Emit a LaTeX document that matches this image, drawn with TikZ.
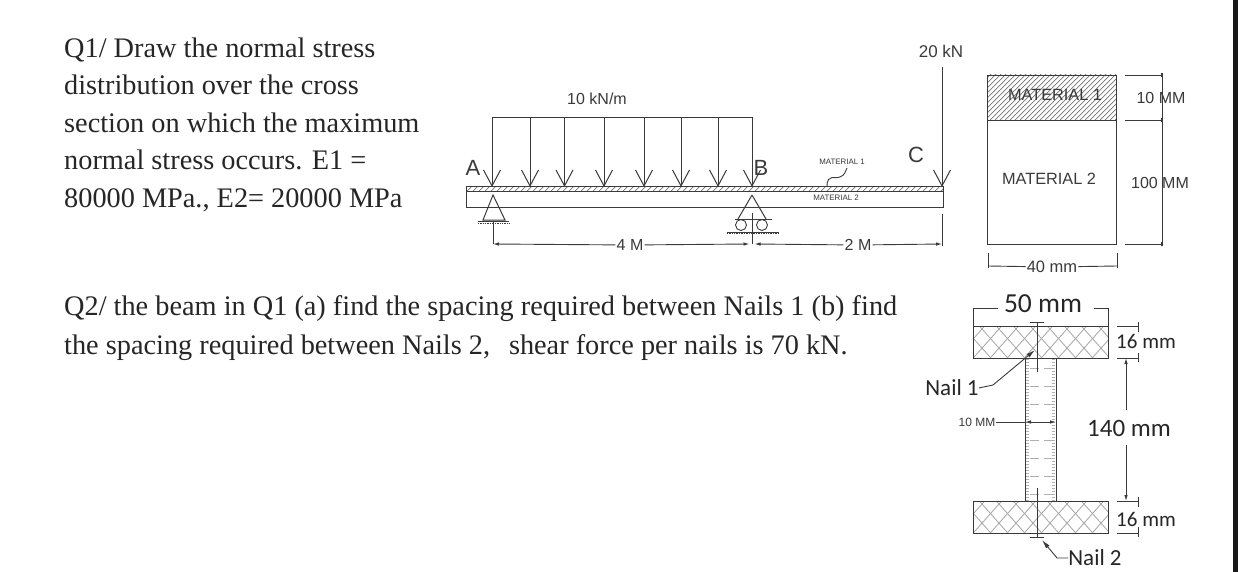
\documentclass[tikz,border=0pt]{standalone}
\usepackage{fontspec}
\setmainfont{Liberation Serif}
\newfontfamily\labelfont{Liberation Sans}
\newfontfamily\calfont{Carlito}
\usetikzlibrary{arrows.meta}
\definecolor{ink}{HTML}{3A3A3A}
\definecolor{txt}{HTML}{262626}
\tikzset{
  x=1pt,y=-1pt,
  para/.style={anchor=base west,inner sep=0pt,text=txt,font=\fontsize{28.3}{30}\selectfont},
  lab/.style={inner sep=0pt,text=ink,font=\labelfont\fontsize{16}{18}\selectfont},
  point/.style={inner sep=0pt,text=ink,font=\labelfont\fontsize{22}{24}\selectfont},
  tiny/.style={inner sep=0pt,text=ink,font=\labelfont\fontsize{7.9}{9}\selectfont},
  cal/.style={inner sep=0pt,text=txt,font=\calfont\fontsize{27.5}{30}\selectfont},
  calmid/.style={inner sep=0pt,text=txt,font=\calfont\fontsize{25}{28}\selectfont},
  calnail/.style={inner sep=0pt,text=txt,font=\calfont\fontsize{23}{26}\selectfont},
  calsm/.style={inner sep=0pt,text=txt,font=\calfont\fontsize{21}{24}\selectfont},
  ln/.style={draw=ink,line width=1pt},
  thinln/.style={draw=ink,line width=.9pt},
  vhead/.style={ln,-{Straight Barb[length=16pt,width=17pt,line width=1pt]}},
  dimtip/.style={thinln,{Latex[length=6pt,width=3.5pt]}-{Latex[length=6pt,width=3.5pt]}},
  endtip/.style={thinln,-{Latex[length=6pt,width=3.5pt]}},
  hatchln/.style={draw=ink!70,line width=.7pt},
  crossln/.style={draw=ink!45,line width=.8pt},
  webln/.style={draw=ink!40,line width=.7pt},
}
\begin{document}
\begin{tikzpicture}
\useasboundingbox (0,0) rectangle (1238,572);
\fill[white] (0,0) rectangle (1238,572);
\fill[black!90] (1232.5,0) rectangle (1238,572);

% Question text
\node[para] (q1a) at (64,57.5) {Q1/ Draw the normal stress};
\node[para] (q1b) at (64,94.5) {distribution over the cross};
\node[para] (q1c) at (64,132.5) {section on which the maximum};
\node[para] (q1d) at (64,170) {normal stress occurs. E1 =};
\node[para] (q1e) at (64,207) {80000 MPa., E2= 20000 MPa};
\node[para] (q2a) at (64,315) {Q2/ the beam in Q1 (a) find the spacing required between Nails 1 (b) find};
\node[para] (q2b) at (64,354) {the spacing required between Nails 2,\ \ \,shear force per nails is 70 kN.};

% Beam
\begin{scope}
\clip (466,186) rectangle (943,191.5);
\foreach \i in {0,6,...,490} \draw[hatchln] (460+\i,192)--(466+\i,186);
\end{scope}
\node[draw=ink,line width=1pt,minimum width=477pt,minimum height=21pt,inner sep=0pt,anchor=north west] (beam) at (466,186) {};
\draw[ln] (466,191.5) -- (943,191.5);

% Distributed load
\coordinate (lt1) at (492,117.5);
\coordinate (lt8) at (752,117.5);
\draw[ln] (lt1) -- (lt8);
\foreach \x in {492,530,564.5,604,644,681,718,752}
  \draw[vhead] (\x,117.5) -- (\x,187);
\node[lab] (load) at (597,99) {10 kN/m};
\node[point] (A) at (473,168) {A};
\node[point] (B) at (761,168) {B};
\node[point] (C) at (916,155) {C};

% Point load
\node[lab,font=\labelfont\fontsize{17}{19}\selectfont] (P) at (941,51) {20 kN};
\coordinate (ptip) at (942,187);
\draw[vhead] (942,67) -- (ptip);

% Support A
\draw[ln] (493,195) -- (483,220) -- (505,220) -- cycle;
\draw[ln] (478,221.5) -- (509,221.5);
\draw[ink,line width=.7pt,densely dotted] (478,223.5) -- (509,223.5);

% Support B
\draw[ln] (752,195) -- (738,219) (752,195) -- (766,219);
\draw[thinln] (735,219) -- (772,219);
\draw[thinln] (741,225) circle (5.5) (762,225) circle (5.5);
\draw[ln] (727,232) -- (779,232);
\draw[ink,line width=.7pt,densely dotted] (727,233.5) -- (779,233.5);

% Span dimensions
\coordinate (dA) at (493,244);
\coordinate (dB) at (752,244);
\coordinate (dC) at (942,244);
\node[lab,fill=white,inner xsep=1pt] (d4) at (630,245) {4 M};
\node[lab,fill=white,inner xsep=1pt] (d2) at (858,245) {2 M};
\draw[thinln] (493,222) -- (dA);
\draw[thinln] (752,213) -- (dB);
\draw[thinln] (942,214) -- (942,246);
\draw[endtip] (d4) -- (dA);
\draw[endtip] (d4) -- (749.5,244);
\draw[endtip] (d2) -- (754.5,244);
\draw[endtip] (d2) -- (dC);

% Material labels on the beam
\node[tiny] (m1) at (842,162) {MATERIAL 1};
\node[tiny] (m2) at (836,198) {MATERIAL 2};
\draw[thinln] (827,187) .. controls (827,172) and (836,180) .. (840,177) .. controls (845,175) and (845,172) .. (847,168);

% Cross section Q1
\begin{scope}
\clip (987,75) rectangle (1116,120);
\foreach \i in {-60,-55,...,190} \draw[hatchln] (980+\i,125)--(1035+\i,70);
\end{scope}
\node[draw=ink,line width=1pt,minimum width=129pt,minimum height=45pt,inner sep=0pt,anchor=north west] (mat1) at (987,75) {};
\node[draw=ink,line width=1pt,minimum width=129pt,minimum height=124pt,inner sep=0pt,anchor=north west] (mat2) at (987,120) {};
\node[lab,font=\labelfont\fontsize{16.3}{18}\selectfont] (m1l) at (1055,95) {MATERIAL 1};
\node[lab,font=\labelfont\fontsize{16.3}{18}\selectfont] (m2l) at (1049,179) {MATERIAL 2};

\coordinate (e1) at (1162,75);
\coordinate (e2) at (1162,120);
\coordinate (e3) at (1162,244);
\draw[thinln] (1125,75) -- (e1) (1125,120) -- (e2) (1125,244) -- (e3);
\draw[thinln] (e1) -- (e3);
\foreach \y in {75,120,244} \fill[ink] (1161,\y-2) rectangle ++(2,4);
\node[lab] (d10) at (1161,98) {10 MM};
\node[lab] (d100) at (1160,183) {100 MM};

\node[lab,fill=white,inner xsep=1pt,font=\labelfont\fontsize{16.5}{18}\selectfont] (d40) at (1052,267) {40 mm};
\coordinate (w1) at (988,266);
\coordinate (w2) at (1117,266);
\draw[thinln] (988,253) -- (988,268) (1117,253) -- (1117,268);
\draw[thinln] (d40) -- (w1) (d40) -- (w2);

% I section
\begin{scope}
\clip (973,326) rectangle (1108,358);
\foreach \i in {-34,-17,...,187} {\draw[crossln] (950+\i,365)--(990+\i,320); \draw[crossln] (940+\i,320)--(980+\i,365);}
\end{scope}
\begin{scope}
\clip (973,501) rectangle (1108,533);
\foreach \i in {-34,-17,...,187} {\draw[crossln] (950+\i,540)--(990+\i,495); \draw[crossln] (940+\i,495)--(980+\i,540);}
\end{scope}
\begin{scope}
\clip (1025,358) rectangle (1056,501);
\foreach \y in {368,386,...,500} \draw[webln,dash pattern=on 9pt off 5pt] (1030,\y) -- (1052,\y);
\foreach \y in {359,362,...,500} {\draw[webln] (1026,\y) -- (1029,\y); \draw[webln] (1052,\y) -- (1055,\y);}
\end{scope}
\node[draw=ink,line width=1pt,minimum width=135pt,minimum height=32pt,inner sep=0pt,anchor=north west] (ft) at (973,326) {};
\node[draw=ink,line width=1pt,minimum width=135pt,minimum height=32pt,inner sep=0pt,anchor=north west] (fb) at (973,501) {};
\node[draw=ink,line width=1pt,minimum width=31pt,minimum height=143pt,inner sep=0pt,anchor=north west] (web) at (1025,358) {};

% Nails
\draw[thinln] (1037,322) -- (1037,372) (1030,322) -- (1044,322);
\draw[thinln] (1037,488) -- (1037,537) (1030,537) -- (1044,537);

% I section labels
\node[cal] (d50) at (1043,304) {50 mm};
\draw[thinln] (973,326) -- (973,308) -- (998,308);
\draw[thinln] (1094,308) -- (1108,308) -- (1108,326);
\node[calsm] (d16a) at (1146,341) {16 mm};
\node[calsm] (d16b) at (1146,519) {16 mm};
\node[calmid] (d140) at (1129,428) {140 mm};
\draw[thinln] (1117,326) -- (1139,326) (1117,358) -- (1139,358);
\draw[thinln] (1117,501) -- (1139,501) (1117,533) -- (1139,533);
\draw[thinln] (1138,322) -- (1138,332) (1138,353) -- (1138,362);
\draw[thinln] (1138,497) -- (1138,507) (1138,527) -- (1138,537);
\draw[endtip] (1126,410) -- (1126,358);
\draw[endtip] (1126,445) -- (1126,501);
\node[calnail] (n1) at (952,388) {Nail 1};
\node[calnail] (n2) at (1095,558) {Nail 2};
\draw[thinln,-{Latex[length=9pt,width=4.5pt]}] (n1.east) -- (993,385) -- (1035,350);
\draw[thinln,-{Latex[length=9pt,width=4.5pt]}] (n2.west) -- (1057,558) -- (1042,540);
\node[lab,font=\labelfont\fontsize{12}{14}\selectfont] (d10b) at (977,422) {10 MM};
\draw[thinln] (d10b.east) -- (1025,422);
\draw[dimtip] (1025,422) -- (1056,422);
\end{tikzpicture}
\end{document}
